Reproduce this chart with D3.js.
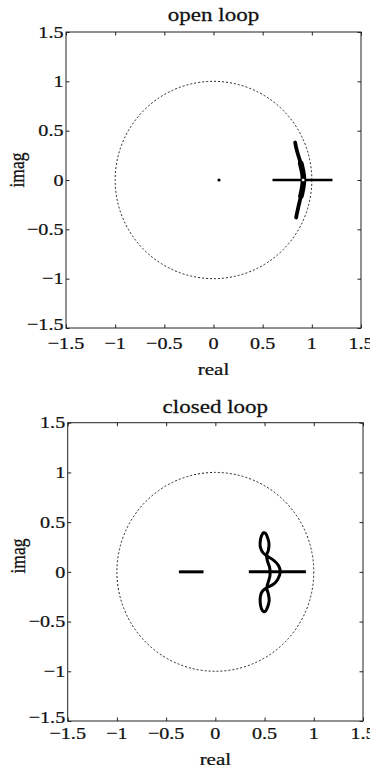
<!DOCTYPE html>
<html>
<head>
<meta charset="utf-8">
<script src="https://cdn.jsdelivr.net/npm/d3@7"></script>
<style>
  body { margin: 0; background: #fff; }
  svg text { font-family: "Liberation Serif", "Times New Roman", serif; fill: #111; stroke: #111; stroke-width: 0.25px; }
</style>
</head>
<body>
<div id="chart"></div>
<script>
// axis ticks, shared by both panels
var tickValues = [-1.5, -1, -0.5, 0, 0.5, 1, 1.5]
var tickLabels = ["−1.5", "−1", "−0.5", "0", "0.5", "1", "1.5"]
var unitRadius = 1

// open loop eigenvalues (real, imag)
var openDot = [[0.056, 0]]
var openRealSegment = [[0.60, 0], [1.21, 0]]
var openArc = [[0.83, 0.38], [0.845, 0.31], [0.865, 0.24], [0.887, 0.17], [0.903, 0.10],
  [0.913, 0.04], [0.914, -0.02], [0.905, -0.09], [0.89, -0.16], [0.873, -0.23],
  [0.857, -0.30], [0.84, -0.38]]
var openMarker = [[0.913, 0]]

// closed loop eigenvalues (real, imag)
var closedRealSegmentLeft = [[-0.37, 0], [-0.12, 0]]
var closedRealSegmentRight = [[0.34, 0], [0.92, 0]]
var closedLoop = [[0.66, 0], [0.65, 0.045], [0.625, 0.085], [0.58, 0.125], [0.515, 0.165],
  [0.475, 0.205], [0.455, 0.26], [0.458, 0.32], [0.47, 0.365], [0.49, 0.393], [0.512, 0.385],
  [0.53, 0.345], [0.545, 0.285], [0.538, 0.215], [0.52, 0.165], [0.532, 0.10], [0.55, 0.05],
  [0.556, 0], [0.553, -0.05], [0.538, -0.10], [0.522, -0.165], [0.538, -0.22], [0.547, -0.29],
  [0.532, -0.35], [0.512, -0.392], [0.49, -0.40], [0.468, -0.37], [0.456, -0.31], [0.458, -0.245],
  [0.478, -0.195], [0.52, -0.162], [0.585, -0.128], [0.628, -0.085], [0.65, -0.04]]

var W = 370, H = 769
var sx = 1.15   // the scan is a bit wider than the font

var svg = d3.select("#chart").append("svg")
    .attr("width", W)
    .attr("height", H)

function stretchedText(g, x, y, str, anchor, size, scaleX) {
  return g.append("text")
    .attr("transform", "translate(" + x + "," + y + ") scale(" + scaleX + ",1)")
    .attr("text-anchor", anchor)
    .style("font-size", size + "px")
    .text(str)
}

function drawPanel(p) {
  var g = svg.append("g")
  var x = d3.scaleLinear().domain([-1.5, 1.5]).range([p.left, p.right])
  var y = d3.scaleLinear().domain([-1.5, 1.5]).range([p.bottom, p.top])

  // ticks pointing inward on all four sides
  var axes = [
    [d3.axisBottom(x), "translate(0," + p.bottom + ")"],
    [d3.axisTop(x), "translate(0," + p.top + ")"],
    [d3.axisLeft(y), "translate(" + p.left + ",0)"],
    [d3.axisRight(y), "translate(" + p.right + ",0)"]
  ]
  axes.forEach(function(a) {
    var ax = g.append("g").attr("transform", a[1])
      .call(a[0].tickValues(tickValues).tickSize(-3.5).tickFormat(""))
    ax.select(".domain").remove()
    ax.selectAll("line").attr("stroke", "#222").attr("stroke-width", 1)
  })

  g.append("rect")
    .attr("x", p.left).attr("y", p.top)
    .attr("width", p.right - p.left).attr("height", p.bottom - p.top)
    .attr("fill", "none").attr("stroke", "#222").attr("stroke-width", 1)

  // tick labels (the lowest y label sits a little higher, clear of the x labels)
  tickValues.forEach(function(v, i) {
    stretchedText(g, x(v), p.tickBase, tickLabels[i], "middle", 17.5, sx)
    stretchedText(g, p.left - 2.5, y(v) - (i == 0 ? 4 : 0), tickLabels[i], "end", 17.5, sx)
      .attr("dy", "0.33em")
  })

  stretchedText(g, (p.left + p.right) / 2, p.titleBase, p.title, "middle", 18, 1.28)
  stretchedText(g, (p.left + p.right) / 2, p.xlabelBase, "real", "middle", 17.5, 1.2)
  g.append("text")
    .attr("transform", "translate(" + p.ylabelX + "," + p.ylabelY + ") scale(1.2,1) rotate(-90)")
    .attr("text-anchor", "middle")
    .style("font-size", "17.5px")
    .text("imag")

  // unit circle, dotted
  g.append("ellipse")
    .attr("cx", x(0)).attr("cy", y(0))
    .attr("rx", x(unitRadius) - x(0)).attr("ry", y(0) - y(unitRadius))
    .attr("fill", "none").attr("stroke", "#222")
    .attr("stroke-width", 1).attr("stroke-dasharray", "2,2")

  var line = d3.line().x(function(d) { return x(d[0]) }).y(function(d) { return y(d[1]) })
  return {g: g, x: x, y: y, line: line}
}

// ---------- open loop ----------
var p1 = drawPanel({left: 66, right: 361, top: 32, bottom: 328, title: "open loop",
  titleBase: 21, tickBase: 349, xlabelBase: 375, ylabelX: 24, ylabelY: 170})

p1.g.append("path").datum(openRealSegment)
  .attr("d", p1.line).attr("fill", "none").attr("stroke", "#000").attr("stroke-width", 2.6)

p1.g.append("path").datum(openArc)
  .attr("d", p1.line.curve(d3.curveCatmullRom))
  .attr("fill", "none").attr("stroke", "#000").attr("stroke-width", 3.8)
  .attr("stroke-linecap", "round").attr("stroke-linejoin", "round")
p1.g.append("path").datum(openArc.filter(function(d) { return Math.abs(d[1]) < 0.2 }))
  .attr("d", p1.line.curve(d3.curveCatmullRom))
  .attr("fill", "none").attr("stroke", "#000").attr("stroke-width", 5.6)
  .attr("stroke-linecap", "round")

p1.g.selectAll(".dot").data(openDot).enter().append("circle")
  .attr("cx", function(d) { return p1.x(d[0]) }).attr("cy", function(d) { return p1.y(d[1]) })
  .attr("r", 1.6).attr("fill", "#000")

p1.g.selectAll(".marker").data(openMarker).enter().append("rect")
  .attr("x", function(d) { return p1.x(d[0]) - 1.5 }).attr("y", function(d) { return p1.y(d[1]) - 1.5 })
  .attr("width", 3).attr("height", 3)
  .attr("fill", "#fff").attr("stroke", "#000").attr("stroke-width", 0.6)

// ---------- closed loop ----------
var p2 = drawPanel({left: 67.7, right: 363, top: 422.7, bottom: 721, title: "closed loop",
  titleBase: 413, tickBase: 739, xlabelBase: 765, ylabelX: 25, ylabelY: 556})

;[closedRealSegmentLeft, closedRealSegmentRight].forEach(function(seg) {
  p2.g.append("path").datum(seg)
    .attr("d", p2.line).attr("fill", "none").attr("stroke", "#000").attr("stroke-width", 3)
})

p2.g.append("path").datum(closedLoop)
  .attr("d", p2.line.curve(d3.curveCatmullRomClosed))
  .attr("fill", "none").attr("stroke", "#000").attr("stroke-width", 3)
  .attr("stroke-linejoin", "round")
</script>
</body>
</html>
